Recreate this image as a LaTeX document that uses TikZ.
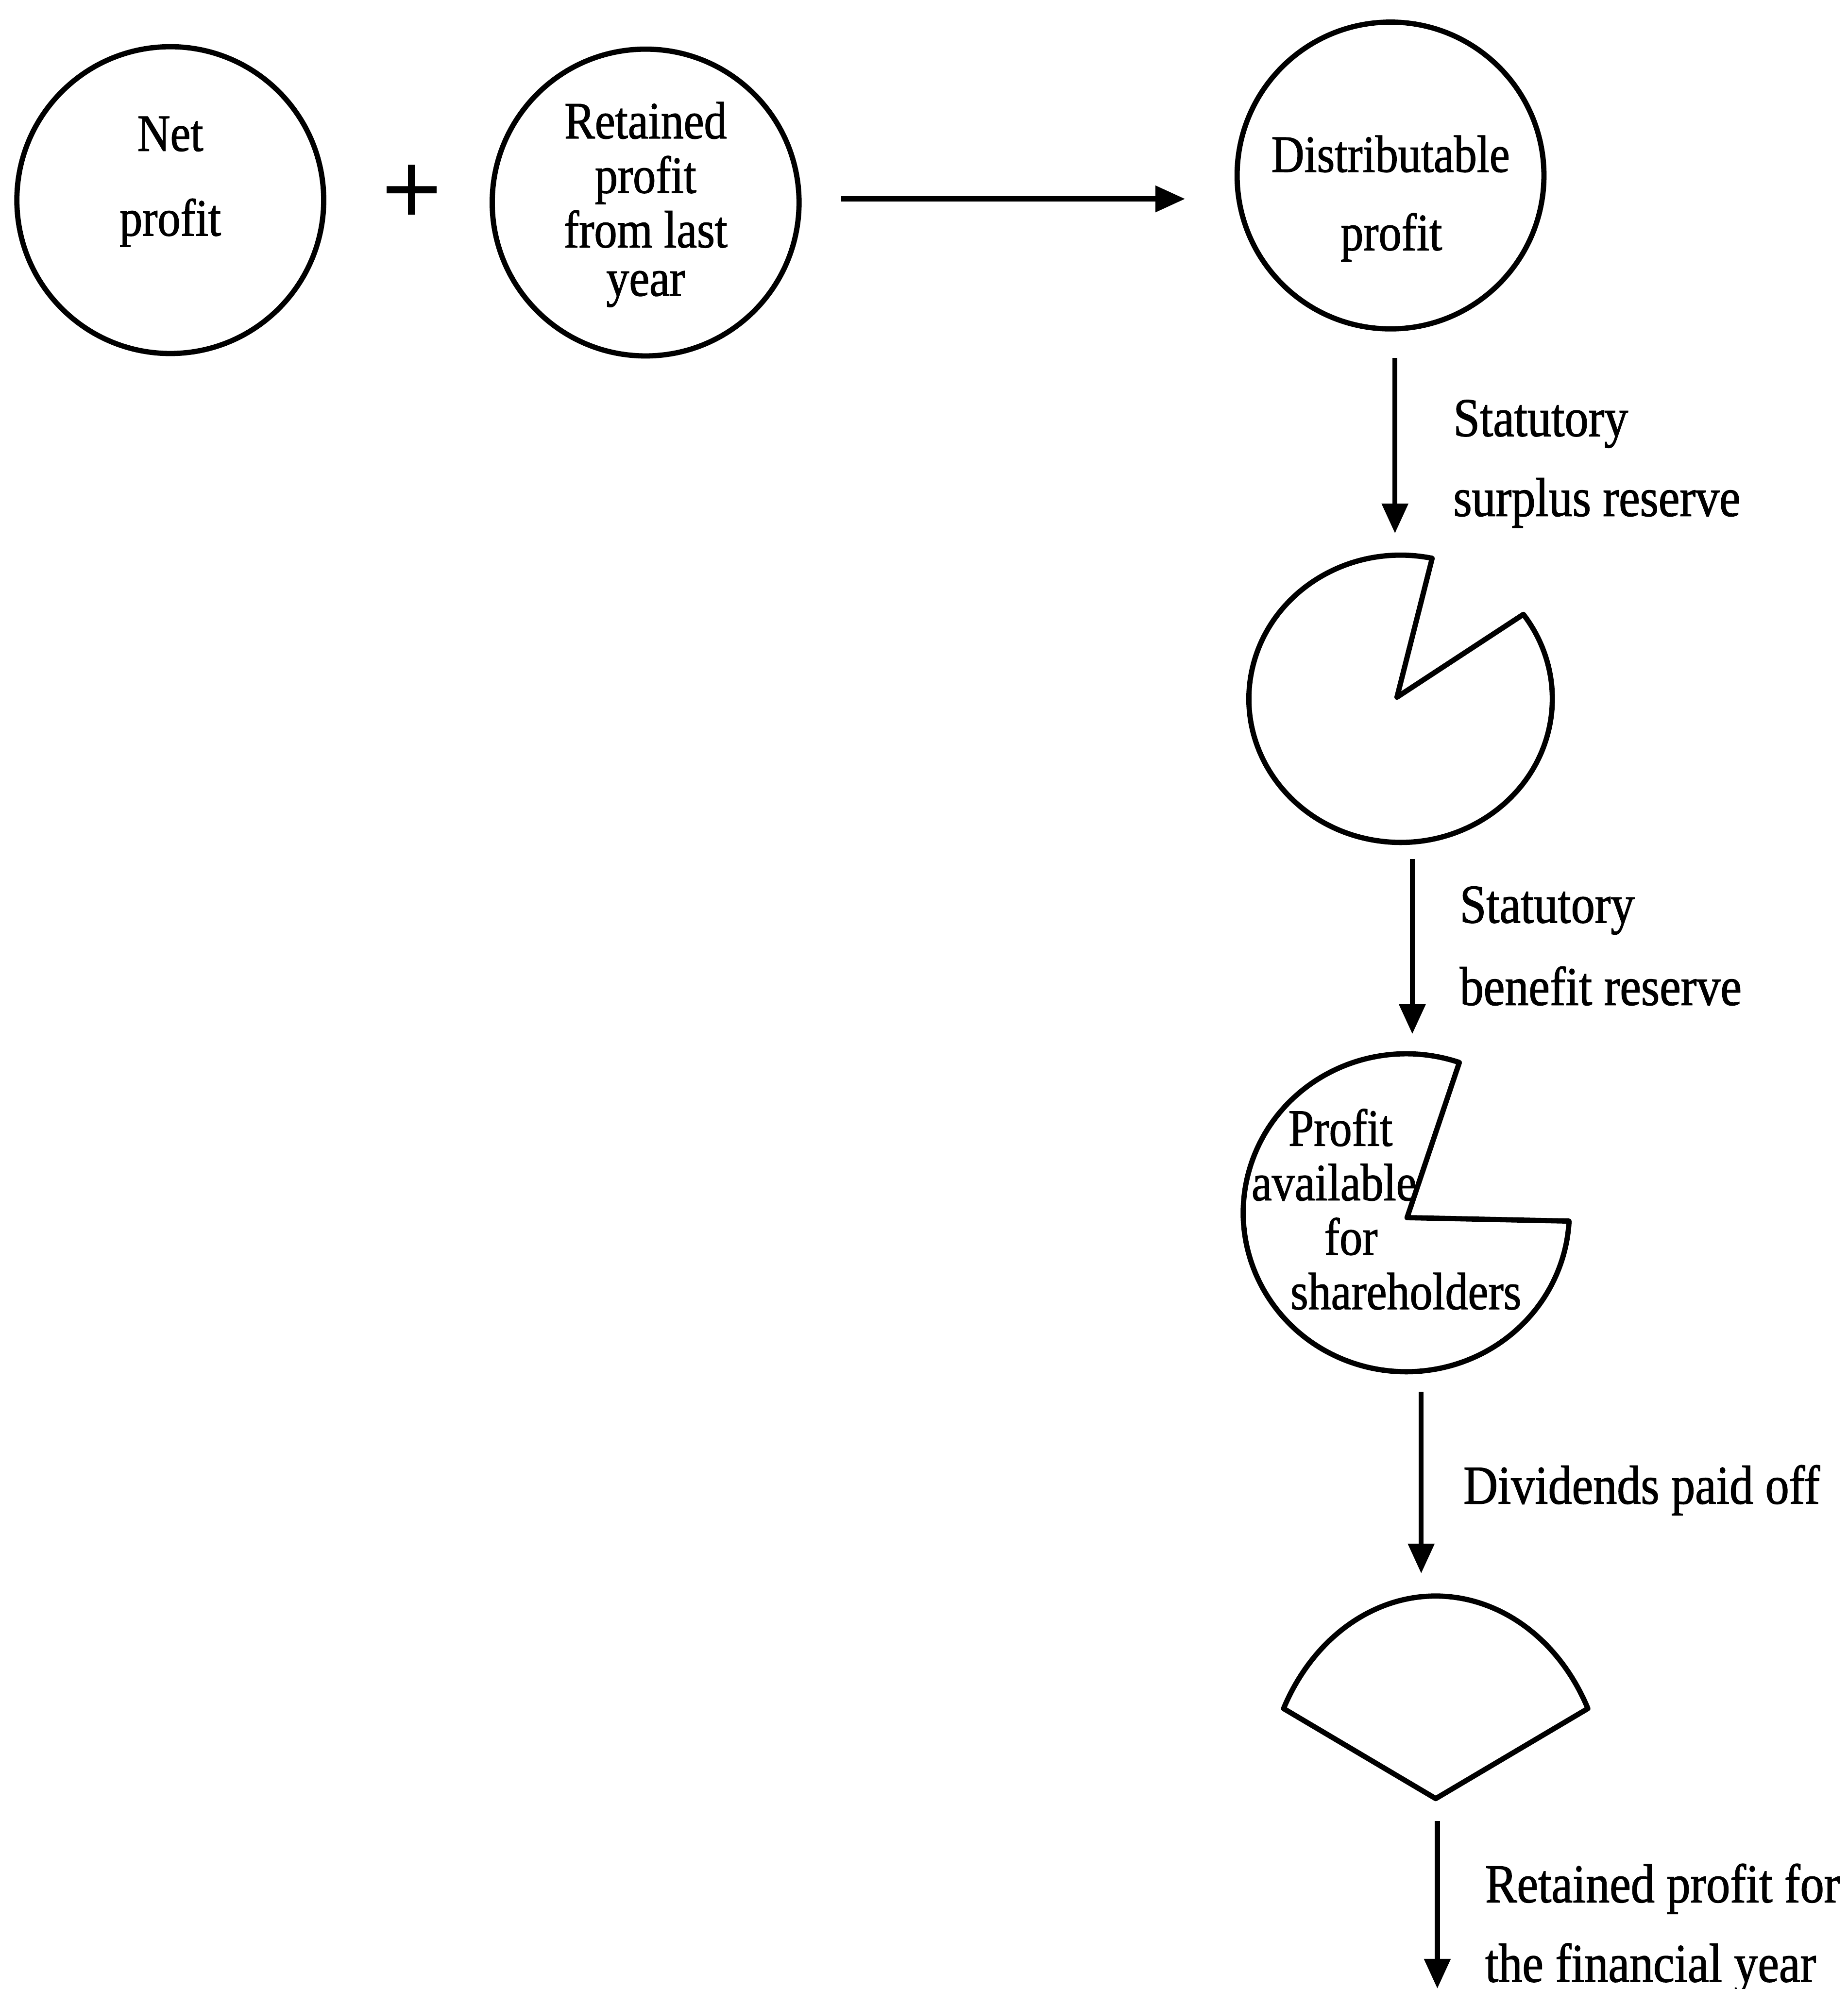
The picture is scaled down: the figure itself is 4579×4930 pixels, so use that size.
\documentclass[tikz,border=0pt]{standalone}
\usepackage{fontspec}
\setmainfont{Liberation Serif}[FakeStretch=0.87,FakeBold=1.2]
\newfontfamily\plusfont{Liberation Serif}[FakeBold=2]
\usetikzlibrary{arrows.meta}
\begin{document}
\begin{tikzpicture}[x=0.01cm,y=0.01cm,
  outline/.style={draw, line width=3.7pt, line join=round},
  circ/.style={circle, draw, line width=3.7pt, minimum size=7.6cm, inner sep=0pt},
  intext/.style={anchor=base, inner sep=0pt, font=\fontsize{37pt}{44pt}\selectfont},
  lab/.style={anchor=base west, inner sep=0pt, font=\fontsize{38.6pt}{46pt}\selectfont},
  arr/.style={line width=3.6pt, -{Triangle[width=18pt,length=21pt]}}]
\useasboundingbox (0,0) rectangle (4579,-4930);

% top row circles
\node[circ] (np) at (422,-496) {};
\node[intext] (npa) at (422,-374) {Net};
\node[intext] (npb) at (422,-584) {profit};

\node[anchor=base, inner sep=0pt, font=\plusfont\fontsize{72.5pt}{80pt}\selectfont] (plus) at (1020,-555) {+};

\node[circ] (rp) at (1600,-502) {};
\node[intext] (rpa) at (1600,-343) {Retained};
\node[intext] (rpb) at (1600,-478) {profit};
\node[intext] (rpc) at (1600,-613) {from last};
\node[intext] (rpd) at (1600,-733) {year};

\node[circ] (dp) at (3446,-435) {};
\node[intext] (dpa) at (3446,-426) {Distributable};
\node[intext] (dpb) at (3448,-620) {profit};

% horizontal arrow
\coordinate (h1) at (2085,-493);
\coordinate (h2) at (2937,-493);
\draw[arr] (h1) -- (h2);

% arrow 1
\coordinate (a1s) at (3457,-887);
\coordinate (a1e) at (3457,-1322);
\draw[arr] (a1s) -- (a1e);
\node[lab] (l1a) at (3601,-1081) {Statutory};
\node[lab] (l1b) at (3601,-1279) {surplus reserve};

% pie 1
\coordinate (pie1) at (3471,-1732);
\coordinate (v1) at (3462,-1728);
\draw[outline] (v1) -- ([shift={(78:376 and 356)}]pie1)
  arc[start angle=78, end angle=396, x radius=376, y radius=356] -- cycle;

% arrow 2
\coordinate (a2s) at (3500,-2129);
\coordinate (a2e) at (3500,-2563);
\draw[arr] (a2s) -- (a2e);
\node[lab] (l2a) at (3617,-2287) {Statutory};
\node[lab] (l2b) at (3617,-2491) {benefit reserve};

% pie 2
\coordinate (pie2) at (3485,-3006);
\coordinate (v2) at (3487,-3018);
\draw[outline] (v2) -- ([shift={(71:404 and 394)}]pie2)
  arc[start angle=71, end angle=357, x radius=404, y radius=394] -- cycle;
\node[intext] (p2a) at (3322,-2840) {Profit};
\node[intext] (p2b) at (3306,-2975) {available};
\node[intext] (p2c) at (3348,-3110) {for};
\node[intext] (p2d) at (3484,-3245) {shareholders};

% arrow 3
\coordinate (a3s) at (3522,-3450);
\coordinate (a3e) at (3522,-3900);
\draw[arr] (a3s) -- (a3e);
\node[lab] (l3) at (3626,-3727) {Dividends paid off};

% fan
\coordinate (fan) at (3558,-4458);
\draw[outline] (fan) -- ++(26.4:421 and 502)
  arc[start angle=26.4, end angle=153.6, x radius=421, y radius=502] -- cycle;

% arrow 4
\coordinate (a4s) at (3562,-4514);
\coordinate (a4e) at (3562,-4929);
\draw[arr] (a4s) -- (a4e);
\node[lab] (l4a) at (3680,-4715) {Retained profit for};
\node[lab] (l4b) at (3680,-4912) {the financial year};
\end{tikzpicture}
\end{document}
